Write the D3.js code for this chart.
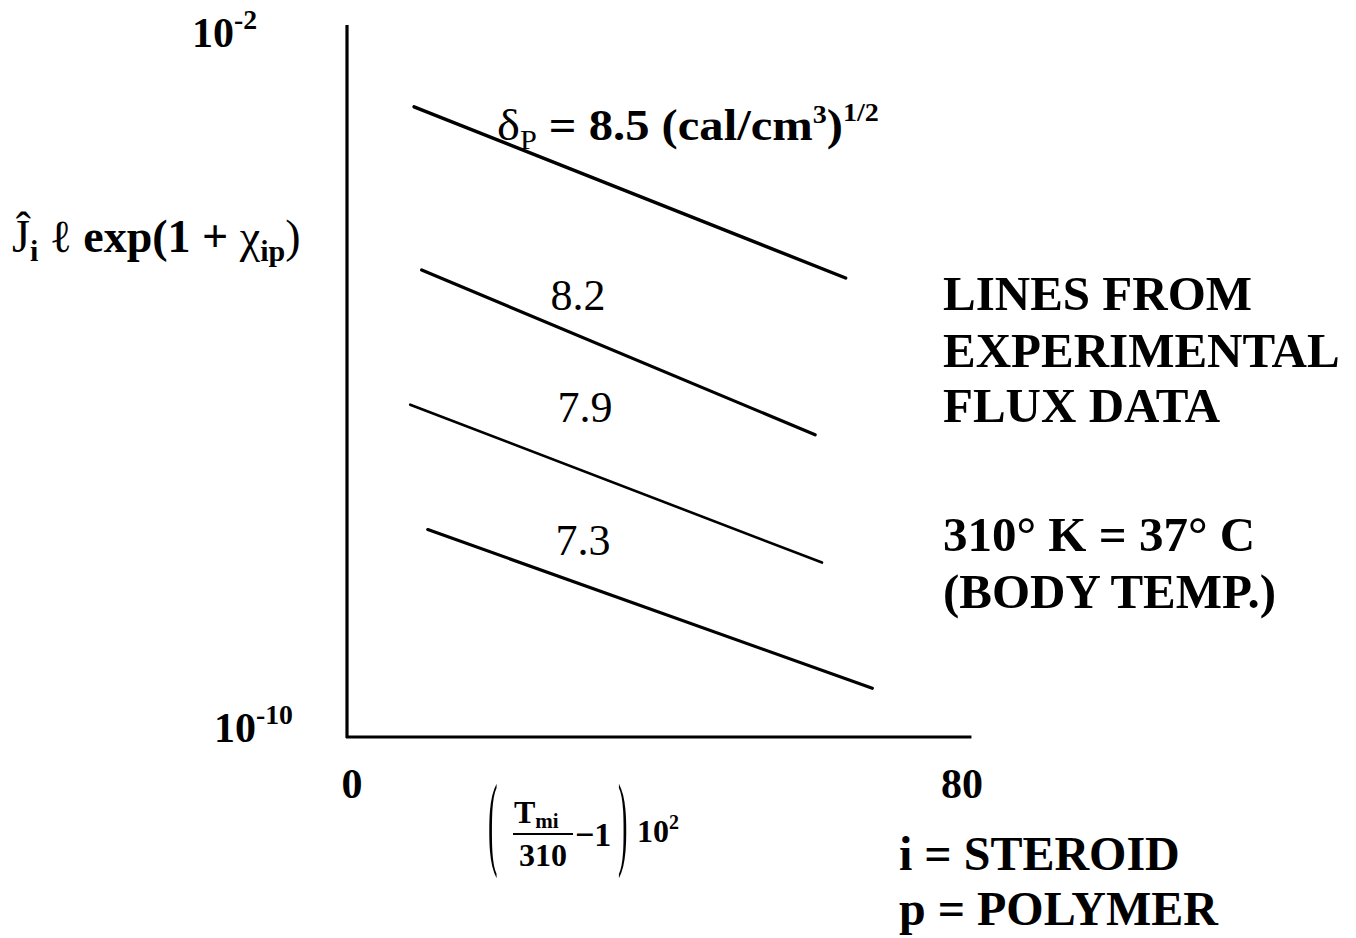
<!DOCTYPE html>
<html><head><meta charset="utf-8">
<script src="https://cdn.jsdelivr.net/npm/d3@7"></script>
<style>body{margin:0;background:#fff}svg{display:block}text{font-family:"Liberation Serif","Times New Roman",serif;font-weight:bold;fill:#000}</style>
</head><body>
<script>
// ---- data ----
const series = ["8.5", "8.2", "7.9", "7.3"];
const xStart = [8.4, 9.4, 7.9, 10.2];
const xEnd = [65.0, 61.0, 61.9, 68.5];
const yStart = [1.29e-3, 1.86e-5, 5.62e-7, 2.19e-8];
const yEnd = [1.51e-5, 2.57e-7, 9.3e-9, 3.55e-10];
const xTickLabels = ["0", "80"];
const xTickValues = [0, 80];
const yDomain = [1e-10, 1e-2];
const xDomain = [0, 80];

const W = 1356, H = 938;
const svg = d3.select("body").append("svg").attr("width", W).attr("height", H);

const x = d3.scaleLinear().domain(xDomain).range([350, 960]);
const y = d3.scaleLog().domain(yDomain).range([737, 28]);

// axes
const g = svg.append("g");
g.append("line").attr("x1", x(0) - 3).attr("x2", x(0) - 3).attr("y1", y(1e-2) - 3).attr("y2", y(1e-10) + 1)
  .attr("stroke", "#000").attr("stroke-width", 3.2);
g.append("line").attr("x1", x(0) - 4).attr("x2", x(81.5)).attr("y1", y(1e-10)).attr("y2", y(1e-10))
  .attr("stroke", "#000").attr("stroke-width", 3.2);

// y tick labels
function pow10(sel, xPos, yPos, base, exp, size) {
  const t = sel.append("text").attr("x", xPos).attr("y", yPos).attr("font-size", size).attr("text-anchor", "start");
  t.append("tspan").text(base);
  t.append("tspan").attr("dy", -size * 0.42).attr("font-size", size * 0.66).text(exp);
  return t;
}
pow10(svg, 192, y(1e-2) + 19, "10", "-2", 42);
pow10(svg, 214, y(1e-10) + 5, "10", "-10", 42);

// x tick labels
svg.selectAll(".xt").data(xTickValues).enter().append("text")
  .attr("x", d => x(d) + 2).attr("y", 798).attr("font-size", 42).attr("text-anchor", "middle")
  .text((d, i) => xTickLabels[i]);

// lines
const lw = [3.4, 3.2, 2.6, 3.2];
svg.selectAll(".ln").data(series).enter().append("line")
  .attr("x1", (d, i) => x(xStart[i])).attr("y1", (d, i) => y(yStart[i]))
  .attr("x2", (d, i) => x(xEnd[i])).attr("y2", (d, i) => y(yEnd[i]))
  .attr("stroke", "#000").attr("stroke-width", (d, i) => lw[i]).attr("stroke-linecap", "round");

// line labels
const t85 = svg.append("text").attr("font-size", 45).attr("transform", "translate(497,140) scale(1.08,1)");
t85.append("tspan").style("font-weight", "normal").text("δ");
t85.append("tspan").attr("dy", 9).attr("font-size", 28).style("font-weight", "normal").text("P");
t85.append("tspan").attr("dy", -9).text(" = 8.5 (cal/cm");
t85.append("tspan").attr("dy", -17).attr("font-size", 26).text("3");
t85.append("tspan").attr("dy", 17).text(")");
t85.append("tspan").attr("dy", -19).attr("font-size", 26).text("1/2");
const lblPos = [[578, 310], [585, 422], [583, 555]];
series.slice(1).forEach((s, i) => {
  svg.append("text").attr("x", lblPos[i][0]).attr("y", lblPos[i][1]).attr("font-size", 44)
    .attr("text-anchor", "middle").style("font-weight", "normal").text(s);
});

// y axis title
const yt = svg.append("text").attr("x", 12).attr("y", 252).attr("font-size", 46);
yt.append("tspan").style("font-weight", "normal").text("Ĵ");
yt.append("tspan").attr("dy", 9).attr("font-size", 30).text("i");
yt.append("tspan").attr("dy", -9).style("font-weight", "normal").text(" ℓ ");
yt.append("tspan").text("exp(1 + ");
yt.append("tspan").style("font-weight", "normal").text("χ");
yt.append("tspan").attr("dy", 9).attr("font-size", 30).text("ip");
yt.append("tspan").attr("dy", -9).style("font-weight", "normal").text(")");

// x axis title: (Tmi/310 - 1) 10^2
const xa = svg.append("g");
xa.append("text").attr("font-size", 38).style("font-weight", "normal")
  .attr("transform", "translate(488,856) scale(0.75,2.75)").text("(");
xa.append("text").attr("font-size", 38).style("font-weight", "normal")
  .attr("transform", "translate(618,856) scale(0.75,2.75)").text(")");
const tm = xa.append("text").attr("x", 514).attr("y", 823).attr("font-size", 32);
tm.append("tspan").text("T");
tm.append("tspan").attr("dy", 5).attr("font-size", 21).text("mi");
xa.append("line").attr("x1", 513).attr("x2", 573).attr("y1", 834).attr("y2", 834).attr("stroke", "#000").attr("stroke-width", 2.2);
xa.append("text").attr("x", 543).attr("y", 866).attr("font-size", 32).attr("text-anchor", "middle").text("310");
xa.append("text").attr("x", 575).attr("y", 846).attr("font-size", 34).text("−1");
const tp = xa.append("text").attr("x", 637).attr("y", 842).attr("font-size", 32);
tp.append("tspan").text("10");
tp.append("tspan").attr("dy", -13).attr("font-size", 20).text("2");

// right annotations
const notes = [["LINES FROM", 310], ["EXPERIMENTAL", 367], ["FLUX DATA", 422], ["310° K = 37° C", 551], ["(BODY TEMP.)", 608]];
svg.selectAll(".nt").data(notes).enter().append("text")
  .attr("x", 943).attr("y", d => d[1]).attr("font-size", 49).text(d => d[0]);
const keys = [["i = STEROID", 870], ["p = POLYMER", 925]];
svg.selectAll(".ky").data(keys).enter().append("text")
  .attr("x", 899).attr("y", d => d[1]).attr("font-size", 48).text(d => d[0]);
</script>
</body></html>
